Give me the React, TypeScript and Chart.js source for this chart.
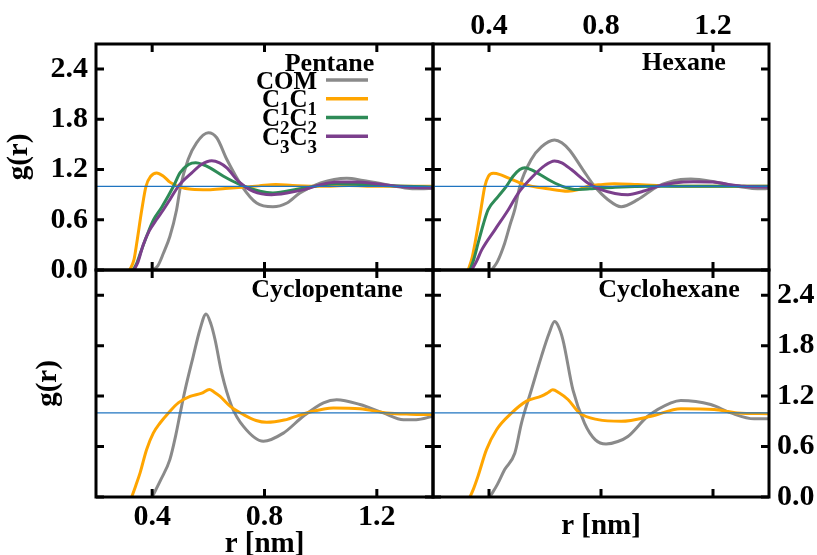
import React, { useEffect, useRef } from "react";
import { Chart, registerables } from "chart.js";

Chart.register(...registerables);

type Pt = [number, number];

const PAGE_W = 817;
const PAGE_H = 555;
const X_MIN = 0.2;
const X_MAX = 1.4;
const Y_MIN = 0;
const Y_MAX = 2.7;
const xTickValues = [0.4, 0.8, 1.2];
const yTickValues = [0, 0.6, 1.2, 1.8, 2.4];
const xAxisTitle = "r [nm]";
const yAxisTitle = "g(r)";
const panelTitles = ["Pentane", "Hexane", "Cyclopentane", "Cyclohexane"];
const seriesLabels = ["COM", "C1C1", "C2C2", "C3C3"];
const seriesColors = ["#8a8a8a", "#ffa500", "#2e8b57", "#7b3f8c"];
const refLineColor = "#1f74c0";
const referenceLine: Pt[] = [[0.2, 1], [1.4, 1]];

// Pentane
const pentaneCOM: Pt[] = [[0.40, 0], [0.42, 0.05], [0.44, 0.2], [0.463, 0.40], [0.487, 0.72], [0.50, 0.98], [0.528, 1.32], [0.558, 1.52], [0.60, 1.64], [0.63, 1.58], [0.666, 1.32], [0.72, 1.0], [0.772, 0.80], [0.83, 0.755], [0.88, 0.80], [0.926, 0.92], [1.0, 1.04], [1.093, 1.095], [1.15, 1.07], [1.235, 1.02], [1.30, 0.98], [1.355, 0.97], [1.40, 0.975]];
const pentaneC1: Pt[] = [[0.32, 0], [0.335, 0.12], [0.345, 0.32], [0.363, 0.72], [0.378, 1.0], [0.395, 1.12], [0.416, 1.16], [0.44, 1.12], [0.463, 1.05], [0.50, 0.99], [0.54, 0.965], [0.60, 0.96], [0.66, 0.975], [0.72, 0.99], [0.78, 1.005], [0.84, 1.02], [0.90, 1.01], [1.0, 1.0], [1.1, 1.01], [1.2, 1.0], [1.3, 1.0], [1.4, 1.0]];
const pentaneC2: Pt[] = [[0.332, 0], [0.345, 0.08], [0.36, 0.22], [0.38, 0.4], [0.405, 0.6], [0.434, 0.75], [0.476, 1.0], [0.499, 1.16], [0.53, 1.26], [0.555, 1.28], [0.58, 1.26], [0.606, 1.22], [0.654, 1.12], [0.713, 1.02], [0.784, 0.94], [0.83, 0.92], [0.926, 0.97], [1.057, 1.03], [1.15, 1.02], [1.3, 1.0], [1.4, 0.99]];
const pentaneC3: Pt[] = [[0.335, 0], [0.35, 0.1], [0.368, 0.30], [0.39, 0.47], [0.415, 0.6], [0.44, 0.72], [0.463, 0.84], [0.493, 1.0], [0.541, 1.16], [0.575, 1.26], [0.612, 1.305], [0.64, 1.28], [0.666, 1.22], [0.707, 1.06], [0.76, 0.94], [0.825, 0.90], [0.88, 0.92], [0.94, 0.96], [1.0, 1.02], [1.06, 1.05], [1.12, 1.05], [1.2, 1.03], [1.27, 1.0], [1.34, 0.985], [1.4, 0.98]];

// Hexane
const hexaneCOM: Pt[] = [[0.409, 0], [0.43, 0.1], [0.456, 0.32], [0.476, 0.55], [0.492, 0.72], [0.51, 1.0], [0.551, 1.32], [0.587, 1.47], [0.634, 1.553], [0.66, 1.52], [0.688, 1.43], [0.735, 1.20], [0.777, 1.0], [0.825, 0.84], [0.872, 0.756], [0.931, 0.84], [1.003, 1.0], [1.085, 1.08], [1.121, 1.087], [1.204, 1.055], [1.287, 1.0], [1.34, 0.975], [1.382, 0.97], [1.4, 0.975]];
const hexaneC1: Pt[] = [[0.326, 0], [0.34, 0.15], [0.35, 0.32], [0.371, 0.72], [0.385, 1.0], [0.398, 1.12], [0.415, 1.155], [0.44, 1.14], [0.468, 1.1], [0.528, 1.02], [0.61, 0.97], [0.682, 0.94], [0.72, 0.96], [0.753, 1.0], [0.80, 1.02], [0.848, 1.03], [0.93, 1.02], [1.0, 1.01], [1.1, 1.0], [1.2, 1.0], [1.3, 1.0], [1.4, 1.0]];
const hexaneC2: Pt[] = [[0.332, 0], [0.345, 0.12], [0.361, 0.32], [0.38, 0.55], [0.397, 0.72], [0.433, 0.88], [0.462, 1.0], [0.486, 1.12], [0.51, 1.2], [0.528, 1.222], [0.55, 1.2], [0.575, 1.155], [0.623, 1.06], [0.67, 0.99], [0.706, 0.963], [0.76, 0.97], [0.85, 0.99], [1.0, 1.0], [1.2, 1.0], [1.4, 1.0]];
const hexaneC3: Pt[] = [[0.338, 0], [0.355, 0.1], [0.374, 0.24], [0.421, 0.48], [0.469, 0.72], [0.504, 0.916], [0.557, 1.12], [0.60, 1.25], [0.634, 1.302], [0.66, 1.28], [0.694, 1.2], [0.753, 1.04], [0.80, 0.96], [0.85, 0.915], [0.896, 0.90], [0.95, 0.94], [1.003, 1.0], [1.06, 1.04], [1.13, 1.055], [1.2, 1.05], [1.26, 1.02], [1.31, 1.0], [1.4, 0.99]];

// Cyclopentane
const cyclopentaneCOM: Pt[] = [[0.40, 0], [0.43, 0.2], [0.463, 0.445], [0.485, 0.75], [0.50, 1.0], [0.517, 1.27], [0.546, 1.67], [0.57, 1.99], [0.592, 2.178], [0.61, 2.05], [0.624, 1.87], [0.648, 1.47], [0.683, 1.08], [0.725, 0.84], [0.796, 0.663], [0.867, 0.76], [0.938, 0.96], [1.01, 1.12], [1.057, 1.157], [1.14, 1.1], [1.223, 1.0], [1.295, 0.92], [1.34, 0.92], [1.4, 0.96]];
const cyclopentaneC1: Pt[] = [[0.327, 0], [0.34, 0.12], [0.357, 0.287], [0.38, 0.563], [0.404, 0.76], [0.428, 0.88], [0.458, 1.0], [0.493, 1.12], [0.535, 1.196], [0.577, 1.235], [0.604, 1.28], [0.62, 1.25], [0.642, 1.196], [0.677, 1.08], [0.725, 0.98], [0.77, 0.91], [0.808, 0.888], [0.87, 0.915], [0.95, 1.0], [1.045, 1.06], [1.14, 1.05], [1.235, 1.0], [1.32, 0.985], [1.4, 0.98]];

// Cyclohexane
const cyclohexaneCOM: Pt[] = [[0.403, 0], [0.43, 0.15], [0.456, 0.326], [0.492, 0.52], [0.516, 0.88], [0.551, 1.27], [0.587, 1.67], [0.615, 1.95], [0.634, 2.087], [0.645, 2.05], [0.664, 1.87], [0.70, 1.27], [0.741, 0.88], [0.78, 0.68], [0.818, 0.631], [0.86, 0.66], [0.896, 0.72], [0.967, 0.96], [1.05, 1.12], [1.085, 1.149], [1.192, 1.1], [1.264, 1.0], [1.347, 0.93], [1.4, 0.93]];
const cyclohexaneC1: Pt[] = [[0.332, 0], [0.345, 0.1], [0.361, 0.25], [0.391, 0.563], [0.427, 0.80], [0.481, 1.0], [0.534, 1.14], [0.587, 1.2], [0.61, 1.24], [0.628, 1.275], [0.65, 1.24], [0.682, 1.16], [0.723, 1.0], [0.789, 0.92], [0.872, 0.9], [0.979, 0.96], [1.085, 1.05], [1.204, 1.04], [1.287, 1.0], [1.4, 0.99]];

const FONT_FAMILY = "'Liberation Serif', 'Times New Roman', serif";
const TICK_FONT = { family: FONT_FAMILY, size: 30, weight: "bold" as const };
const AXIS_TITLE_FONT = { family: FONT_FAMILY, size: 29, weight: "bold" as const };
const TITLE_SIZE = 26;
const LEGEND_SIZE = 25;
const LEGEND_C_SIZE = 25;
const LEGEND_SUB_SIZE = 19;

interface PanelCfg {
  title: string;
  series: Pt[][];
  area: { l: number; t: number; r: number; b: number };
  xPos: "top" | "bottom";
  xLabels: boolean;
  xTitle: boolean;
  xSize: number;
  xTickPad: number;
  xTitlePad: number;
  yPos: "left" | "right";
  yLabels: boolean;
  yTitle: boolean;
  ySize: number;
  yTitlePad: number;
  titleDx: number;
  titleDy: number;
  legend: boolean;
}

const panels: PanelCfg[] = [
  {
    title: panelTitles[0], series: [pentaneCOM, pentaneC1, pentaneC2, pentaneC3],
    area: { l: 96, t: 44, r: 433, b: 270 },
    xPos: "bottom", xLabels: false, xTitle: false, xSize: 0, xTickPad: 0, xTitlePad: 0,
    yPos: "left", yLabels: true, yTitle: true, ySize: 96, yTitlePad: 2,
    titleDx: 233.5, titleDy: 26.7, legend: true,
  },
  {
    title: panelTitles[1], series: [hexaneCOM, hexaneC1, hexaneC2, hexaneC3],
    area: { l: 433, t: 44, r: 769, b: 270 },
    xPos: "top", xLabels: true, xTitle: false, xSize: 44, xTickPad: 0, xTitlePad: 0,
    yPos: "left", yLabels: false, yTitle: false, ySize: 0, yTitlePad: 0,
    titleDx: 251, titleDy: 26.3, legend: false,
  },
  {
    title: panelTitles[2], series: [cyclopentaneCOM, cyclopentaneC1],
    area: { l: 96, t: 270, r: 433, b: 497 },
    xPos: "bottom", xLabels: true, xTitle: true, xSize: 58, xTickPad: 2, xTitlePad: -7,
    yPos: "left", yLabels: false, yTitle: true, ySize: 96, yTitlePad: 31,
    titleDx: 231, titleDy: 27.3, legend: false,
  },
  {
    title: panelTitles[3], series: [cyclohexaneCOM, cyclohexaneC1],
    area: { l: 433, t: 270, r: 769, b: 497 },
    xPos: "bottom", xLabels: false, xTitle: true, xSize: 58, xTickPad: 0, xTitlePad: 11,
    yPos: "right", yLabels: true, yTitle: false, ySize: 48, yTitlePad: 0,
    titleDx: 236, titleDy: 27.3, legend: false,
  },
];

function drawRichLabel(ctx: CanvasRenderingContext2D, text: string, rightX: number, midY: number) {
  const parts = text.match(/[A-Za-z]+|\d+/g) || [];
  const hasSub = parts.some((p) => /\d/.test(p));
  const mainSize = hasSub ? LEGEND_C_SIZE : LEGEND_SIZE;
  const mainFont = `bold ${mainSize}px ${FONT_FAMILY}`;
  const subFont = `bold ${LEGEND_SUB_SIZE}px ${FONT_FAMILY}`;
  const isSub = (p: string) => /\d/.test(p);
  const widths = parts.map((p) => {
    ctx.font = isSub(p) ? subFont : mainFont;
    return ctx.measureText(p).width;
  });
  const total = widths.reduce((a, b) => a + b, 0);
  let x = rightX - total;
  const base = midY + mainSize * 0.34;
  ctx.textAlign = "left";
  ctx.textBaseline = "alphabetic";
  parts.forEach((p, i) => {
    ctx.font = isSub(p) ? subFont : mainFont;
    ctx.fillText(p, x, isSub(p) ? base + 8 : base);
    x += widths[i];
  });
}

function makeDecorPlugin(cfg: PanelCfg) {
  return {
    id: "panelDecor",
    afterDraw(chart: any) {
      const ctx: CanvasRenderingContext2D = chart.ctx;
      const { left, right, top, bottom } = chart.chartArea;
      const xs = chart.scales.x;
      const ys = chart.scales.y;
      const tl = 8;
      ctx.save();
      ctx.strokeStyle = "#000";
      ctx.lineWidth = 3;
      ctx.beginPath();
      xTickValues.forEach((v) => {
        const px = xs.getPixelForValue(v);
        ctx.moveTo(px, bottom);
        ctx.lineTo(px, bottom - tl);
        ctx.moveTo(px, top);
        ctx.lineTo(px, top + tl);
      });
      yTickValues.forEach((v) => {
        const py = ys.getPixelForValue(v);
        ctx.moveTo(left, py);
        ctx.lineTo(left + tl, py);
        ctx.moveTo(right, py);
        ctx.lineTo(right - tl, py);
      });
      ctx.stroke();
      ctx.strokeRect(left, top, right - left, bottom - top);

      ctx.fillStyle = "#000";
      ctx.font = `bold ${TITLE_SIZE}px ${FONT_FAMILY}`;
      ctx.textAlign = "center";
      ctx.textBaseline = "alphabetic";
      ctx.fillText(cfg.title, left + cfg.titleDx, top + cfg.titleDy);

      if (cfg.legend) {
        seriesLabels.forEach((lab, i) => {
          const y = top + 36 + i * 18.75;
          ctx.fillStyle = "#000";
          drawRichLabel(ctx, lab, left + 221, y);
          ctx.strokeStyle = seriesColors[i];
          ctx.lineWidth = 3.5;
          ctx.beginPath();
          ctx.moveTo(left + 230, y);
          ctx.lineTo(left + 272, y);
          ctx.stroke();
        });
      }
      ctx.restore();
    },
  };
}

function buildChart(canvas: HTMLCanvasElement, cfg: PanelCfg) {
  const xDisp = cfg.xLabels || cfg.xTitle;
  const yDisp = cfg.yLabels || cfg.yTitle;
  const padding = {
    left: cfg.area.l - (yDisp && cfg.yPos === "left" ? cfg.ySize : 0),
    right: PAGE_W - cfg.area.r - (yDisp && cfg.yPos === "right" ? cfg.ySize : 0),
    top: cfg.area.t - (xDisp && cfg.xPos === "top" ? cfg.xSize : 0),
    bottom: PAGE_H - cfg.area.b - (xDisp && cfg.xPos === "bottom" ? cfg.xSize : 0),
  };
  const toXY = (pts: Pt[]) => pts.map(([x, y]) => ({ x, y }));
  const curveSets = cfg.series.map((s, i) => ({
    label: seriesLabels[i],
    data: toXY(s),
    borderColor: seriesColors[i],
    borderWidth: 3,
    pointRadius: 0,
    fill: false,
    cubicInterpolationMode: "monotone" as const,
  }));
  const datasets: any[] = [
    {
      label: "g=1",
      data: toXY(referenceLine),
      borderColor: refLineColor,
      borderWidth: 1.3,
      pointRadius: 0,
      fill: false,
    },
    ...curveSets.reverse(),
  ];
  return new Chart(canvas, {
    type: "line",
    data: { datasets },
    plugins: [makeDecorPlugin(cfg)],
    options: {
      animation: false,
      responsive: false,
      events: [],
      layout: { padding },
      plugins: { legend: { display: false }, tooltip: { enabled: false } },
      scales: {
        x: {
          type: "linear",
          position: cfg.xPos,
          min: X_MIN,
          max: X_MAX,
          display: xDisp,
          afterBuildTicks: (s: any) => {
            s.ticks = xTickValues.map((v) => ({ value: v }));
          },
          afterFit: xDisp ? (s: any) => { s.height = cfg.xSize; } : undefined,
          grid: { display: false, drawTicks: false },
          border: { display: false },
          ticks: {
            display: cfg.xLabels,
            font: TICK_FONT,
            color: "#000",
            padding: cfg.xTickPad,
            autoSkip: false,
            maxRotation: 0,
            callback: (v: any) => Number(v).toFixed(1),
          },
          title: {
            display: cfg.xTitle,
            text: xAxisTitle,
            font: AXIS_TITLE_FONT,
            color: "#000",
            padding: { top: 0, bottom: cfg.xTitlePad },
          },
        },
        y: {
          type: "linear",
          position: cfg.yPos,
          min: Y_MIN,
          max: Y_MAX,
          display: yDisp,
          afterBuildTicks: (s: any) => {
            s.ticks = yTickValues.map((v) => ({ value: v }));
          },
          afterFit: yDisp ? (s: any) => { s.width = cfg.ySize; } : undefined,
          grid: { display: false, drawTicks: false },
          border: { display: false },
          ticks: {
            display: cfg.yLabels,
            font: TICK_FONT,
            color: "#000",
            padding: 8,
            autoSkip: false,
            callback: (v: any) => Number(v).toFixed(1),
          },
          title: {
            display: cfg.yTitle,
            text: yAxisTitle,
            font: AXIS_TITLE_FONT,
            color: "#000",
            padding: { top: cfg.yTitlePad, bottom: 0 },
          },
        },
      },
    } as any,
  });
}

function Panel({ cfg }: { cfg: PanelCfg }) {
  const ref = useRef<HTMLCanvasElement | null>(null);
  useEffect(() => {
    if (!ref.current) return;
    const chart = buildChart(ref.current, cfg);
    return () => chart.destroy();
  }, [cfg]);
  return (
    <canvas
      ref={ref}
      width={PAGE_W}
      height={PAGE_H}
      style={{ position: "absolute", left: 0, top: 0, width: PAGE_W, height: PAGE_H }}
    />
  );
}

export default function App() {
  return (
    <div
      style={{
        position: "fixed",
        left: 0,
        top: 0,
        width: PAGE_W,
        height: PAGE_H,
        background: "#fff",
        overflow: "hidden",
      }}
    >
      {panels.map((p, i) => (
        <Panel key={i} cfg={p} />
      ))}
    </div>
  );
}
